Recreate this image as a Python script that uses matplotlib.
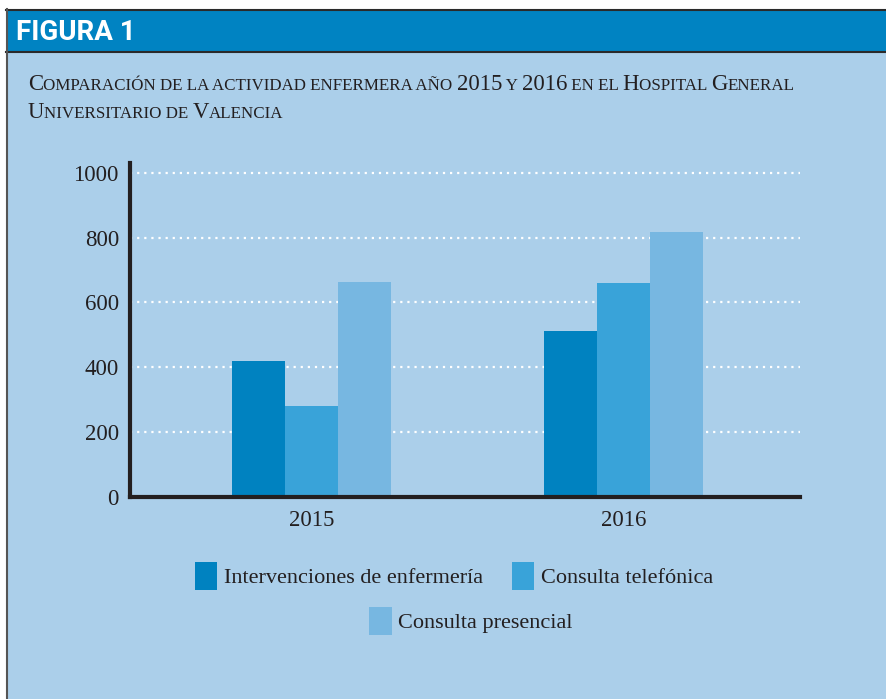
import numpy as np
import matplotlib
matplotlib.use('Agg')
import matplotlib.pyplot as plt
from matplotlib.patches import Rectangle
from matplotlib.lines import Line2D

# Data
years = ['2015', '2016']
series = ['Intervenciones de enfermería', 'Consulta telefónica', 'Consulta presencial']
intervenciones = [419, 511]
telefonica = [280, 660]
presencial = [663, 817]
yticks = [0, 200, 400, 600, 800, 1000]

colors = ['#0082c0', '#39a3d9', '#77b7e1']
bg = '#abcfea'
header = '#0083c2'
ink = '#231f20'

W, H = 886, 699
fig = plt.figure(figsize=(W / 100, H / 100), dpi=100, facecolor='white')

def fx(px):
    return px / W

def fy(py):
    return 1 - py / H

# Background panels
fig.add_artist(Rectangle((fx(7), 0), 1, fy(52), transform=fig.transFigure, facecolor=bg, edgecolor='none', zorder=0))
fig.add_artist(Rectangle((fx(7), fy(52)), 1, fy(9) - fy(52), transform=fig.transFigure, facecolor=header, edgecolor='none', zorder=0))
fig.add_artist(Line2D([fx(6), 1], [fy(9.5), fy(9.5)], transform=fig.transFigure, color='#2a2a2a', lw=1.5))
fig.add_artist(Line2D([fx(6), 1], [fy(52), fy(52)], transform=fig.transFigure, color='#2a2a2a', lw=1.5))
fig.add_artist(Line2D([fx(7), fx(7)], [0, fy(9)], transform=fig.transFigure, color='#555555', lw=1.5))

# Header label
fig.text(fx(16), fy(32), 'FIGURA 1', color='white', fontsize=20, fontweight='bold',
         family=['Roboto', 'DejaVu Sans'], va='center', ha='left')

# Small caps title
renderer = fig.canvas.get_renderer()

def small_caps(x, y, s, big, small):
    runs = []
    for ch in s:
        is_big = ch.isupper() or ch.isdigit()
        if runs and runs[-1][1] == is_big:
            runs[-1][0] += ch
        else:
            runs.append([ch, is_big])
    for txt, is_big in runs:
        t = fig.text(x, y, txt.upper(), fontsize=big if is_big else small,
                     family='Liberation Serif', color=ink, va='baseline', ha='left')
        bb = t.get_window_extent(renderer)
        x += bb.width / W

small_caps(fx(28), fy(90), 'Comparación de la actividad enfermera año 2015 y 2016 en el Hospital General', 16.4, 12.25)
small_caps(fx(28), fy(118), 'Universitario de Valencia', 16.4, 12.25)

# Chart
ax = fig.add_axes([fx(130), fy(497), fx(800) - fx(130), fy(163) - fy(497)])
ax.set_facecolor('none')
x = np.arange(len(years))
w = 0.17
bars = []
for i, vals in enumerate([intervenciones, telefonica, presencial]):
    bars.append(ax.bar(x + (i - 1) * w, vals, w, color=colors[i], label=series[i], zorder=2))

ax.set_xlim(-0.582, 1.566)
ax.set_ylim(0, 1030)
ax.set_yticks(yticks)
ax.set_yticklabels([str(v) for v in yticks], family='Liberation Serif', fontsize=16.5, color=ink)
ax.set_xticks(x)
ax.set_xticklabels(years, family='Liberation Serif', fontsize=16.5, color=ink)
ax.tick_params(axis='both', length=0)
ax.tick_params(axis='y', pad=8)
ax.tick_params(axis='x', pad=9)
for s in ['top', 'right']:
    ax.spines[s].set_visible(False)
for s in ['left', 'bottom']:
    ax.spines[s].set_color(ink)
    ax.spines[s].set_linewidth(3)
    ax.spines[s].set_zorder(3)
ax.yaxis.grid(True, color='white', linestyle=(0, (1, 2.2)), linewidth=1.6, zorder=1)
ax.set_axisbelow(True)

# Legends
leg_kw = dict(frameon=False, handlelength=1.0, handleheight=1.6,
              handletextpad=0.3, columnspacing=1.3, borderaxespad=0, borderpad=0,
              prop={'family': 'Liberation Serif', 'size': 16})
leg1 = fig.legend(handles=bars[:2], labels=series[:2], ncol=2, loc='center',
                  bbox_to_anchor=(fx(454), fy(576)), **leg_kw)
leg2 = fig.legend(handles=bars[2:], labels=series[2:], ncol=1, loc='center',
                  bbox_to_anchor=(fx(471), fy(621)), **leg_kw)
for leg in (leg1, leg2):
    for t in leg.get_texts():
        t.set_color(ink)

fig.savefig('out.png', dpi=100, facecolor='white')
